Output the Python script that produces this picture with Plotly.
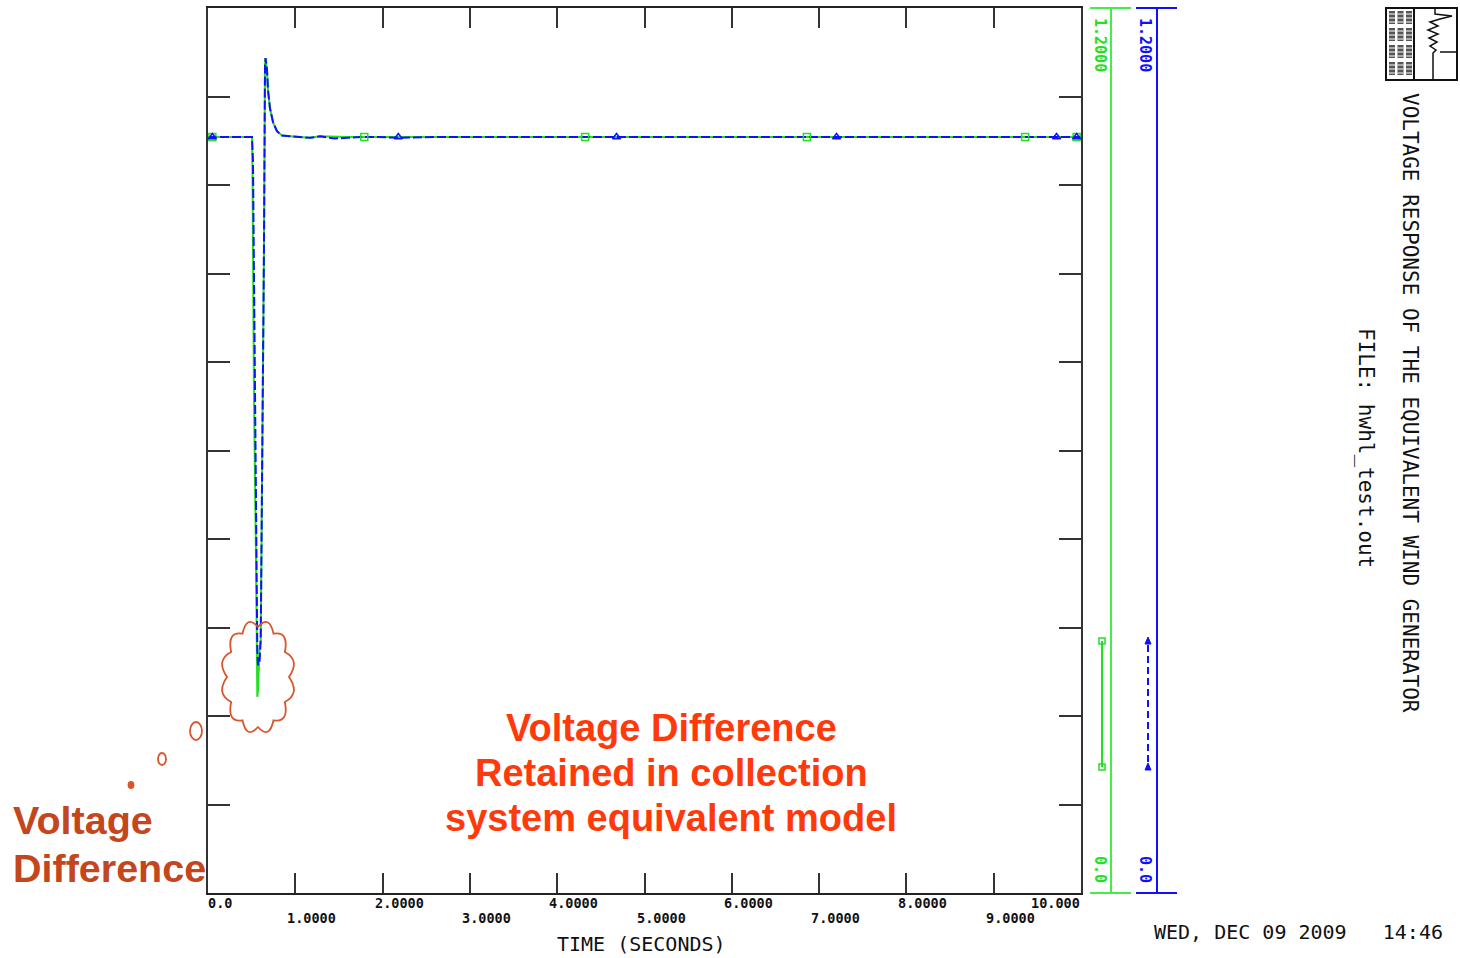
import numpy as np
import plotly.graph_objects as go

W, H = 1460, 958

# ---------------- data ----------------
blue_t = [0.0, 0.504, 0.515, 0.538, 0.565, 0.573, 0.590, 0.604, 0.627, 0.641, 0.653, 0.659,
          0.676, 0.687, 0.710, 0.745, 0.790, 0.848, 0.939, 1.054, 1.168, 1.283, 1.45, 1.60,
          1.75, 1.95, 2.2, 2.6, 3.0, 3.5, 4.0, 5.0, 6.0, 7.0, 8.0, 9.0, 10.0]
blue_v = [1.025, 1.025, 0.994, 0.641, 0.329, 0.309, 0.313, 0.343, 0.641, 0.872, 1.123, 1.132,
          1.116, 1.089, 1.064, 1.045, 1.033, 1.027, 1.026, 1.025, 1.024, 1.026, 1.023, 1.024,
          1.025, 1.025, 1.024, 1.025, 1.025, 1.025, 1.025, 1.025, 1.025, 1.025, 1.025, 1.025, 1.025]

green_t = [0.0, 0.504, 0.510, 0.527, 0.550, 0.565, 0.573, 0.590, 0.604, 0.627, 0.641, 0.653,
           0.659, 0.676, 0.687, 0.710, 0.745, 0.790, 0.848, 0.939, 1.054, 1.168, 1.283, 1.6,
           2.0, 3.0, 4.0, 5.0, 6.0, 7.0, 8.0, 9.0, 10.0]
green_v = [1.025, 1.025, 0.974, 0.668, 0.452, 0.266, 0.275, 0.330, 0.343, 0.641, 0.872, 1.123,
           1.132, 1.116, 1.089, 1.064, 1.045, 1.033, 1.027, 1.026, 1.025, 1.024, 1.026, 1.025,
           1.025, 1.025, 1.025, 1.025, 1.025, 1.025, 1.025, 1.025, 1.025]

square_t = [0.05, 1.79, 4.32, 6.86, 9.36, 9.95]
square_v = [1.025, 1.025, 1.025, 1.025, 1.025, 1.025]
tri_t = [0.05, 2.18, 4.68, 7.20, 9.72, 9.95]
tri_v = [1.025, 1.025, 1.025, 1.025, 1.025, 1.025]

x_tick_vals = [0, 1, 2, 3, 4, 5, 6, 7, 8, 9, 10]
x_tick_text = ["0.0", "1.0000", "2.0000", "3.0000", "4.0000", "5.0000",
               "6.0000", "7.0000", "8.0000", "9.0000", "10.000"]

y_min, y_max = 0.0, 1.2
y_axis_labels = ["1.2000", "0.0"]

title_text = "VOLTAGE RESPONSE OF THE EQUIVALENT WIND GENERATOR"
file_text = "FILE: hwhl_test.out"
date_text = "WED, DEC 09 2009   14:46"
xlabel_text = "TIME (SECONDS)"
note_lines = ["Voltage Difference", "Retained in collection", "system equivalent model"]
left_lines = ["Voltage", "Difference"]

# ---------------- helpers ----------------
def px(x):
    return x / W

def py(y):
    return 1 - y / H

PL, PR, PT, PB = 208, 1081, 8, 893
MONO = "DejaVu Sans Mono"
GREEN = "#22e022"
BLUE = "#1010ff"

fig = go.Figure()

fig.add_trace(go.Scatter(x=green_t, y=green_v, mode="lines",
                         line=dict(color=GREEN, width=2), showlegend=False, hoverinfo="skip"))
fig.add_trace(go.Scatter(x=blue_t, y=blue_v, mode="lines",
                         line=dict(color=BLUE, width=2, dash="9px,3px"), showlegend=False,
                         hoverinfo="skip"))
fig.add_trace(go.Scatter(x=square_t, y=square_v, mode="markers",
                         marker=dict(symbol="square-open", size=7, color=GREEN,
                                     line=dict(width=1.5, color=GREEN)),
                         showlegend=False, hoverinfo="skip"))
fig.add_trace(go.Scatter(x=tri_t, y=tri_v, mode="markers",
                         marker=dict(symbol="triangle-up-open", size=7, color=BLUE,
                                     line=dict(width=1.5, color=BLUE)),
                         showlegend=False, hoverinfo="skip"))

fig.update_layout(
    width=W, height=H,
    margin=dict(l=0, r=0, t=0, b=0),
    paper_bgcolor="white", plot_bgcolor="white",
    showlegend=False,
    xaxis=dict(domain=[px(PL), px(PR)], range=[0, 10], showgrid=False, zeroline=False,
               showline=True, linecolor="#222", linewidth=2, mirror="allticks",
               ticks="inside", ticklen=20, tickwidth=2, tickcolor="#333",
               tickvals=x_tick_vals, showticklabels=False),
    yaxis=dict(domain=[py(PB), py(PT)], range=[y_min, y_max], showgrid=False, zeroline=False,
               showline=True, linecolor="#333", linewidth=2, mirror="allticks",
               ticks="inside", ticklen=22, tickwidth=2, tickcolor="#333",
               tick0=0, dtick=(y_max - y_min) / 10, showticklabels=False),
)

ann = []
# x tick labels (alternating rows)
for i, (v, t) in enumerate(zip(x_tick_vals, x_tick_text)):
    row_y = 903 if i % 2 == 0 else 918
    if i == 0:
        anchor, shift = "left", -2
    elif i == len(x_tick_vals) - 1:
        anchor, shift = "right", 1
    else:
        anchor, shift = "left", -10
    ann.append(dict(x=v, xref="x", y=py(row_y), yref="paper", text=t, showarrow=False,
                    xanchor=anchor, yanchor="middle", xshift=shift,
                    font=dict(family=MONO, size=13.5, color="#111", weight="bold")))

ann.append(dict(x=px(641), y=py(944), xref="paper", yref="paper", text=xlabel_text,
                showarrow=False, xanchor="center", yanchor="middle",
                font=dict(family=MONO, size=20, color="#111")))
ann.append(dict(x=px(1298), y=py(932), xref="paper", yref="paper", text=date_text,
                showarrow=False, xanchor="center", yanchor="middle",
                font=dict(family=MONO, size=20, color="#111")))
ann.append(dict(x=px(1410), y=py(403), xref="paper", yref="paper", text=title_text,
                showarrow=False, textangle=90, xanchor="center", yanchor="middle",
                font=dict(family=MONO, size=21, color="#111")))
ann.append(dict(x=px(1366), y=py(448), xref="paper", yref="paper", text=file_text,
                showarrow=False, textangle=90, xanchor="center", yanchor="middle",
                font=dict(family=MONO, size=21, color="#111")))

# right-side axis labels
for cx, col in [(1100, GREEN), (1145, BLUE)]:
    ann.append(dict(x=px(cx), y=py(45), xref="paper", yref="paper", text=y_axis_labels[0],
                    showarrow=False, textangle=90, xanchor="center", yanchor="middle",
                    font=dict(family=MONO, size=15, color=col, weight="bold")))
    ann.append(dict(x=px(cx), y=py(869), xref="paper", yref="paper", text=y_axis_labels[1],
                    showarrow=False, textangle=90, xanchor="center", yanchor="middle",
                    font=dict(family=MONO, size=15, color=col, weight="bold")))

# red note
for yy, line in zip([728, 773, 818], note_lines):
    ann.append(dict(x=px(671), y=py(yy), xref="paper", yref="paper", text=line,
                    showarrow=False, xanchor="center", yanchor="middle",
                    font=dict(family="Liberation Sans", size=38, color="#ff3a0a",
                              weight="bold")))
for yy, line in zip([820, 868], left_lines):
    ann.append(dict(x=px(11), y=py(yy), xref="paper", yref="paper", text=line,
                    showarrow=False, xanchor="left", yanchor="middle",
                    font=dict(family="Liberation Sans", size=39.5, color="#c4461c",
                              weight="bold")))

fig.update_layout(annotations=ann)

# ---------------- decorative shapes ----------------
shapes = []

def line(x0, y0, x1, y1, color, width=2, dash="solid"):
    shapes.append(dict(type="line", xref="paper", yref="paper", x0=px(x0), y0=py(y0),
                       x1=px(x1), y1=py(y1), line=dict(color=color, width=width, dash=dash)))

# separate right-hand axes
for ax_x, col in [(1111, "#44ee44"), (1157, BLUE)]:
    line(ax_x, PT, ax_x, PB, col, 2)
    line(ax_x - 21, PT, ax_x + 20, PT, col, 2)
    line(ax_x - 21, PB, ax_x + 20, PB, col, 2)

# legend samples
line(1102, 641, 1102, 767, GREEN, 2)
for yy in [641, 767]:
    shapes.append(dict(type="rect", xref="paper", yref="paper", x0=px(1099), x1=px(1105),
                       y0=py(yy + 3), y1=py(yy - 3), line=dict(color=GREEN, width=1.5)))
line(1148, 645, 1148, 767, BLUE, 2, dash="7px,4px")
for yy in [641, 767]:
    path = "M {} {} L {} {} L {} {} Z".format(px(1148), py(yy - 4), px(1145), py(yy + 3),
                                              px(1151), py(yy + 3))
    shapes.append(dict(type="path", xref="paper", yref="paper", path=path,
                       fillcolor=BLUE, line=dict(color=BLUE, width=1)))

# thought cloud
CLOUD = "#d9552e"
cx, cy, rx, ry, nb = 258, 677, 31, 50, 12
ang = np.linspace(0, 2 * np.pi, nb + 1)
pts = [(cx + rx * np.cos(a), cy + ry * np.sin(a)) for a in ang]
d = "M {:.5f} {:.5f}".format(px(pts[0][0]), py(pts[0][1]))
for i in range(nb):
    am = (ang[i] + ang[i + 1]) / 2
    ctrl = (cx + rx * 1.42 * np.cos(am), cy + ry * 1.3 * np.sin(am))
    d += " Q {:.5f} {:.5f} {:.5f} {:.5f}".format(px(ctrl[0]), py(ctrl[1]),
                                                  px(pts[i + 1][0]), py(pts[i + 1][1]))
d += " Z"
shapes.append(dict(type="path", xref="paper", yref="paper", path=d,
                   line=dict(color=CLOUD, width=1.8), fillcolor="rgba(0,0,0,0)"))
for (ex, ey, ew, eh, fill) in [(196, 731, 12, 18, False), (162, 759, 8, 12, False),
                               (131, 785, 5, 6, True)]:
    shapes.append(dict(type="circle", xref="paper", yref="paper",
                       x0=px(ex - ew / 2), x1=px(ex + ew / 2), y0=py(ey + eh / 2),
                       y1=py(ey - eh / 2), line=dict(color=CLOUD, width=1.8),
                       fillcolor=CLOUD if fill else "rgba(0,0,0,0)"))

# logo box
shapes.append(dict(type="rect", xref="paper", yref="paper", x0=px(1386), x1=px(1457),
                   y0=py(80), y1=py(8), line=dict(color="#111", width=2)))
line(1414, 8, 1414, 80, "#111", 2)
for r in range(4):
    for c in range(3):
        x0 = 1389 + c * 8.5
        y0 = 11 + r * 17
        shapes.append(dict(type="rect", xref="paper", yref="paper", x0=px(x0), x1=px(x0 + 6),
                           y0=py(y0 + 13), y1=py(y0), line=dict(width=0),
                           fillcolor="#555"))
        for k in range(3):
            shapes.append(dict(type="line", xref="paper", yref="paper", x0=px(x0),
                               x1=px(x0 + 6), y0=py(y0 + 3 + 4 * k), y1=py(y0 + 3 + 4 * k),
                               line=dict(color="white", width=1)))
wave = [(1435, 8), (1435, 14), (1452, 16), (1440, 19), (1430, 22), (1438, 26), (1428, 30),
        (1438, 34), (1429, 38), (1437, 42), (1430, 46), (1436, 50), (1433, 53), (1433, 80)]
wp = "M " + " L ".join("{:.5f} {:.5f}".format(px(a), py(b)) for a, b in wave)
shapes.append(dict(type="path", xref="paper", yref="paper", path=wp,
                   line=dict(color="#111", width=1.5)))
line(1440, 52, 1457, 52, "#111", 1.5)

fig.update_layout(shapes=shapes)

fig.write_html("out.html")
